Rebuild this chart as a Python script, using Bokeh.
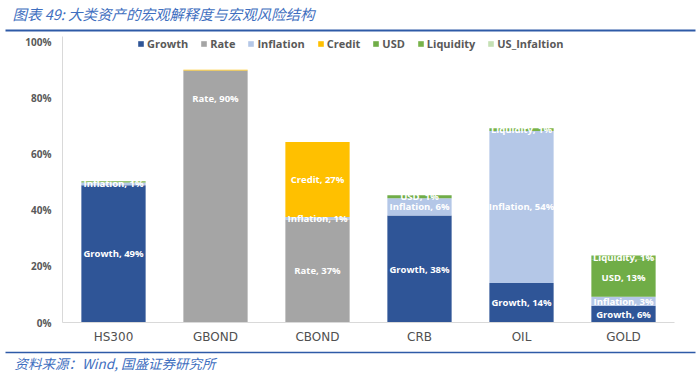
from bokeh.plotting import figure
from bokeh.models import (ColumnDataSource, FactorRange, Range1d, FixedTicker, PrintfTickFormatter,
                          Legend, LegendItem)
from bokeh.layouts import column
from bokeh.embed import file_html
from bokeh.resources import INLINE
from bokeh.core.properties import value

# ---------------- data ----------------
categories = ["HS300", "GBOND", "CBOND", "CRB", "OIL", "GOLD"]
series_names = ["Growth", "Rate", "Inflation", "Credit", "USD", "Liquidity", "US_Infaltion"]
growth = [49.0, 0.0, 0.0, 38.2, 14.1, 6.0]
rate = [0.0, 90.0, 36.8, 0.0, 0.0, 0.0]
inflation = [1.0, 0.0, 0.9, 6.2, 54.3, 3.2]
credit = [0.0, 0.3, 26.8, 0.0, 0.0, 0.0]
usd = [0.0, 0.0, 0.0, 1.0, 0.0, 13.4]
liquidity = [0.45, 0.0, 0.0, 0.0, 1.0, 1.3]
us_infaltion = [0.0, 0.0, 0.0, 0.0, 0.0, 0.0]
y_ticks = [0, 20, 40, 60, 80, 100]
title_text = "图表 49:  大类资产的宏观解释度与宏观风险结构"
source_text = "资料来源：Wind, 国盛证券研究所"

series = [growth, rate, inflation, credit, usd, liquidity, us_infaltion]
colors = ["#2F5597", "#A5A5A5", "#B4C7E7", "#FFC000", "#70AD47", "#78B34A", "#C5E0B4"]

W = 700
HEAD_H, MAIN_H, FOOT_H = 34, 312, 28
BLUE_TXT = "#3F6FC0"
RULE = "#2E5AA7"
CJK = value("Noto Sans CJK SC")

# ---------------- header ----------------
header = figure(width=W, height=HEAD_H, x_range=Range1d(0, W), y_range=Range1d(0, HEAD_H),
                toolbar_location=None, output_backend="svg", min_border=0,
                x_axis_location=None, y_axis_location=None, frame_align=False)
header.grid.visible = False
header.outline_line_color = None
header.text(x=[12], y=[HEAD_H - 13], text=[title_text], text_font=CJK, text_font_style="italic",
            text_font_size="14.5px", text_color=BLUE_TXT, text_baseline="middle")
header.line(x=[5, W - 5], y=[HEAD_H - 30, HEAD_H - 30], line_width=2, line_color=RULE)

# ---------------- main chart ----------------
TOP_PAD, BOT_PAD = 2, 23
frame_h = MAIN_H - TOP_PAD - BOT_PAD
px_per_unit = 281 / 100.0
y_end = frame_h / px_per_unit

p = figure(width=W, height=MAIN_H, x_range=FactorRange(factors=categories, range_padding=0),
           y_range=Range1d(0, y_end), toolbar_location=None, output_backend="svg",
           min_border_left=62, min_border_right=26, min_border_top=TOP_PAD, min_border_bottom=BOT_PAD)
p.grid.visible = False
p.outline_line_color = None

data = dict(cat=categories)
for n, s in zip(series_names, series):
    data[n] = s
src = ColumnDataSource(data)
renderers = p.vbar_stack(series_names, x="cat", width=0.63, color=colors, line_color=None, source=src)

legend = Legend(items=[LegendItem(label=n, renderers=[r]) for n, r in zip(series_names, renderers)],
                orientation="horizontal", location=(75, frame_h - 16), glyph_width=7, glyph_height=7,
                label_standoff=3, spacing=12, padding=0, margin=0, border_line_color=None,
                background_fill_alpha=0, label_text_font="Open Sans", label_text_font_size="11px",
                label_text_font_style="bold", label_text_color="#595959", label_height=12)
p.add_layout(legend)

# segment labels
label_top_offset = {("GBOND", "Rate"): 10}
lx, ly, lt = [], [], []
for i, c in enumerate(categories):
    bottom = 0.0
    for n, s in zip(series_names, series):
        v = s[i]
        if round(v) >= 1:
            y = bottom + v / 2
            if (c, n) in label_top_offset:
                y = bottom + v - label_top_offset[(c, n)]
            lx.append(c)
            ly.append(y)
            lt.append(f"{n}, {round(v)}%")
        bottom += v
p.text(x=lx, y=ly, text=lt, text_align="center", text_baseline="middle", text_color="white",
       text_font=value("Open Sans"), text_font_style="bold", text_font_size="9.5px")

p.yaxis.ticker = FixedTicker(ticks=y_ticks)
p.yaxis.formatter = PrintfTickFormatter(format="%d%%")
for ax in (p.xaxis, p.yaxis):
    ax.major_tick_line_color = None
    ax.minor_tick_line_color = None
    ax.major_tick_out = 0
    ax.major_tick_in = 0
    ax.minor_tick_out = 0
    ax.axis_line_color = "#D9D9D9"
p.yaxis.major_label_text_font = "Open Sans"
p.yaxis.major_label_text_font_size = "10px"
p.yaxis.major_label_text_font_style = "bold"
p.yaxis.major_label_text_color = "#595959"
p.yaxis.major_label_standoff = 11
p.xaxis.major_label_text_font = "DejaVu Sans"
p.xaxis.major_label_text_font_size = "12px"
p.xaxis.major_label_text_color = "#505050"
p.xaxis.major_label_standoff = 7

# ---------------- footer ----------------
footer = figure(width=W, height=FOOT_H, x_range=Range1d(0, W), y_range=Range1d(0, FOOT_H),
                toolbar_location=None, output_backend="svg", min_border=0,
                x_axis_location=None, y_axis_location=None, frame_align=False)
footer.grid.visible = False
footer.outline_line_color = None
footer.line(x=[5, W - 5], y=[FOOT_H - 6, FOOT_H - 6], line_width=1.5, line_color=RULE)
footer.text(x=[14], y=[FOOT_H - 16], text=[source_text], text_font=CJK, text_font_style="italic",
            text_font_size="13.5px", text_color=BLUE_TXT, text_baseline="middle")

layout = column(header, p, footer, spacing=0)
open("out.html", "w", encoding="utf-8").write(file_html(layout, INLINE))
